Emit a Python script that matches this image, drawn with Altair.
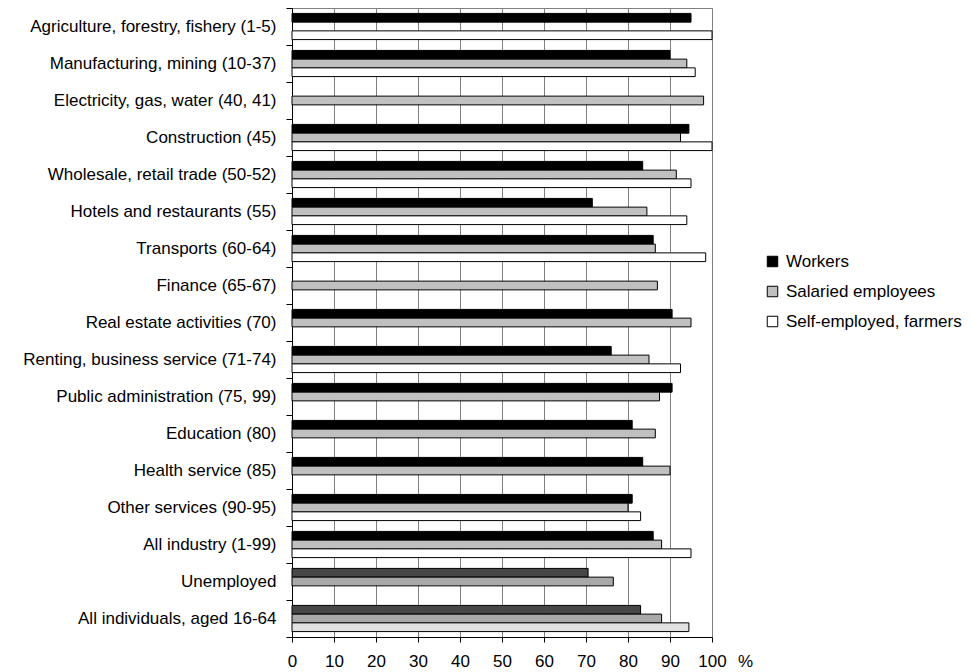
import altair as alt
import pandas as pd

categories = [
    "Agriculture, forestry, fishery (1-5)",
    "Manufacturing, mining (10-37)",
    "Electricity, gas, water (40, 41)",
    "Construction (45)",
    "Wholesale, retail trade (50-52)",
    "Hotels and restaurants (55)",
    "Transports (60-64)",
    "Finance (65-67)",
    "Real estate activities (70)",
    "Renting, business service (71-74)",
    "Public administration (75, 99)",
    "Education (80)",
    "Health service (85)",
    "Other services (90-95)",
    "All industry (1-99)",
    "Unemployed",
    "All individuals, aged 16-64",
]
series_names = ["Workers", "Salaried employees", "Self-employed, farmers"]
workers = [95, 90, None, 94.5, 83.5, 71.5, 86, None, 90.5, 76, 90.5, 81, 83.5, 81, 86, 70.5, 83]
salaried = [None, 94, 98, 92.5, 91.5, 84.5, 86.5, 87, 95, 85, 87.5, 86.5, 90, 80, 88, 76.5, 88]
self_employed = [100, 96, None, 100, 95, 94, 98.5, None, None, 92.5, None, None, None, 83, 95, None, 94.5]
hatched_categories = ["Unemployed", "All individuals, aged 16-64"]
x_ticks = list(range(0, 101, 10))

rows = []
for i, c in enumerate(categories):
    for s, vals in zip(series_names, [workers, salaried, self_employed]):
        v = vals[i]
        if v is not None:
            rows.append({"category": c, "series": s, "value": v,
                         "hatched": c in hatched_categories})
df = pd.DataFrame(rows)

W, H = 420, 629
FONT = "Liberation Sans"

y_scale = alt.Scale(domain=categories, paddingInner=0, paddingOuter=0)
off_scale = alt.Scale(domain=series_names, paddingOuter=0.62, paddingInner=0)
x_scale = alt.Scale(domain=[0, 100], nice=False, zero=True)

x_axis = alt.Axis(values=x_ticks, title="%", titleX=453, titleY=24,
                  titleAlign="center", titleBaseline="middle",
                  titleFontWeight="normal", titleFontSize=17, titleFont=FONT,
                  titleColor="black",
                  grid=True, gridColor="#808080", gridWidth=1,
                  domainColor="black", tickColor="black", tickSize=5,
                  labelFontSize=17, labelFont=FONT, labelColor="black",
                  labelPadding=11, labelFlush=False, labelOverlap=False)
y_axis = alt.Axis(title=None, tickBand="extent", grid=False,
                  domainColor="black", tickColor="black", tickSize=6,
                  labelFontSize=17, labelFont=FONT, labelColor="black",
                  labelPadding=10, labelLimit=400)

base = alt.Chart(df)

normal = base.transform_filter("!datum.hatched").mark_bar(
    stroke="black", strokeWidth=1
).encode(
    x=alt.X("value:Q", scale=x_scale, axis=x_axis),
    y=alt.Y("category:N", sort=categories, scale=y_scale, axis=y_axis),
    yOffset=alt.YOffset("series:N", sort=series_names, scale=off_scale),
    fill=alt.Fill("series:N", sort=series_names,
                  scale=alt.Scale(domain=series_names,
                                  range=["#000000", "#c0c0c0", "#ffffff"]),
                  legend=alt.Legend(title=None, orient="none", legendX=472, legendY=245,
                                    symbolType="square", symbolSize=110,
                                    symbolStrokeColor="black", symbolStrokeWidth=1,
                                    labelFontSize=17, labelFont=FONT, labelColor="black",
                                    labelOffset=5, rowPadding=12, padding=0,
                                    labelLimit=400)),
)

hatched = base.transform_filter("datum.hatched").mark_bar(
    stroke="black", strokeWidth=1
).encode(
    x=alt.X("value:Q", scale=x_scale, axis=x_axis),
    y=alt.Y("category:N", sort=categories, scale=y_scale, axis=y_axis),
    yOffset=alt.YOffset("series:N", sort=series_names, scale=off_scale),
    fill=alt.Fill("series:N", sort=series_names,
                  scale=alt.Scale(domain=series_names,
                                  range=["#474747", "#a9a9a9", "#e2e2e2"]),
                  legend=None),
)

chart = alt.layer(normal, hatched).resolve_scale(fill="independent").properties(
    width=W, height=H,
    autosize=alt.AutoSizeParams(type="none"),
    padding={"left": 284, "top": 0, "right": 252, "bottom": 35},
    background="white",
).configure_view(stroke="#808080", strokeWidth=1)

chart.save("out.html", embed_options={"renderer": "svg", "actions": False})
